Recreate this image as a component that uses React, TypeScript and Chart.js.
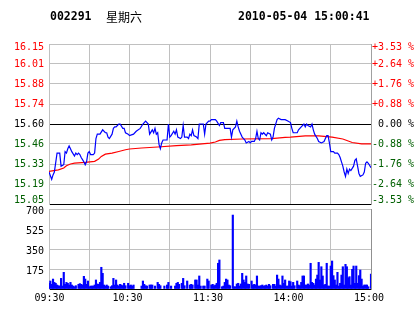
import React, { useEffect, useRef } from 'react';
import { Chart, registerables } from 'chart.js';

Chart.register(...registerables);

// ---- text ----
const stockCode = '002291';
const weekday = '星期六';
const timestamp = '2010-05-04 15:00:41';

// ---- axis / tick data ----
const priceMin = 15.05;
const priceMax = 16.15;
const priceLabels = ['16.15', '16.01', '15.88', '15.74', '15.60', '15.46', '15.33', '15.19', '15.05'];
const pctLabels = ['+3.53 %', '+2.64 %', '+1.76 %', '+0.88 %', ' 0.00 %', '-0.88 %', '-1.76 %', '-2.64 %', '-3.53 %'];
const timeTickMinutes = [0, 60, 120, 180, 240];
const timeLabels = ['09:30', '10:30', '11:30', '14:00', '15:00'];
const volMax = 700;
const volTickValues = [700, 525, 350, 175];

// ---- series: price (minute index from 09:30, trading minutes) ----
const priceMinutes = [
  0, 2, 3, 4, 6, 8, 9, 11, 12, 13, 14, 15, 16, 17, 19, 20, 21, 22, 23, 24,
  26, 27, 28, 29, 30, 31, 33, 34, 35, 36, 38, 40, 42, 43, 44, 45, 47, 48, 49, 50,
  52, 53, 55, 56, 57, 59, 60, 63, 65, 68, 70, 72, 74, 75, 77, 78, 79, 80, 81, 82,
  83, 84, 85, 88, 89, 90, 91, 93, 94, 95, 96, 98, 99, 100, 101, 103, 104, 105, 106, 107,
  108, 110, 111, 112, 114, 115, 116, 117, 119, 120, 121, 124, 125, 127, 128, 130, 131, 135, 136, 137,
  139, 140, 141, 142, 144, 145, 146, 147, 149, 150, 151, 153, 154, 155, 156, 157, 158, 159, 160, 162,
  163, 165, 166, 167, 168, 170, 171, 173, 176, 178, 180, 181, 182, 185, 186, 188, 190, 191, 192, 193,
  195, 196, 197, 198, 200, 201, 203, 205, 206, 207, 208, 209, 210, 212, 213, 215, 216, 217, 218, 219,
  220, 221, 222, 223, 224, 225, 227, 228, 229, 230, 231, 232, 234, 235, 236, 237, 238, 240,
];
const prices = [
  15.27, 15.22, 15.25, 15.27, 15.40, 15.40, 15.31, 15.32, 15.41, 15.40, 15.43, 15.45, 15.43, 15.41, 15.38, 15.40, 15.39, 15.40, 15.39, 15.37,
  15.34, 15.32, 15.34, 15.40, 15.41, 15.39, 15.39, 15.40, 15.50, 15.53, 15.53, 15.56, 15.54, 15.54, 15.51, 15.50, 15.53, 15.57, 15.58, 15.58,
  15.60, 15.60, 15.57, 15.57, 15.54, 15.53, 15.52, 15.53, 15.55, 15.57, 15.60, 15.62, 15.60, 15.53, 15.56, 15.54, 15.57, 15.53, 15.54, 15.46,
  15.43, 15.47, 15.49, 15.49, 15.60, 15.51, 15.52, 15.55, 15.53, 15.56, 15.51, 15.50, 15.51, 15.59, 15.51, 15.51, 15.50, 15.53, 15.52, 15.56,
  15.52, 15.51, 15.50, 15.60, 15.60, 15.60, 15.53, 15.60, 15.62, 15.62, 15.63, 15.63, 15.62, 15.59, 15.61, 15.61, 15.57, 15.57, 15.51, 15.56,
  15.58, 15.62, 15.58, 15.55, 15.51, 15.50, 15.49, 15.47, 15.48, 15.47, 15.48, 15.48, 15.50, 15.55, 15.50, 15.49, 15.54, 15.53, 15.54, 15.52,
  15.54, 15.53, 15.49, 15.51, 15.57, 15.63, 15.64, 15.63, 15.63, 15.62, 15.61, 15.57, 15.54, 15.54, 15.56, 15.58, 15.60, 15.58, 15.60, 15.59,
  15.58, 15.60, 15.56, 15.53, 15.50, 15.48, 15.47, 15.48, 15.50, 15.52, 15.52, 15.47, 15.41, 15.41, 15.40, 15.40, 15.39, 15.37, 15.34, 15.31,
  15.27, 15.24, 15.29, 15.26, 15.29, 15.28, 15.31, 15.35, 15.36, 15.31, 15.26, 15.24, 15.25, 15.27, 15.33, 15.34, 15.33, 15.30,
];

// ---- series: average price ----
const avgMinutes = [0, 7, 11, 13, 16, 19, 27, 34, 37, 39, 42, 47, 52, 57, 60, 69, 81, 95, 106, 120, 124, 127, 131, 144, 166, 176, 180, 191, 201, 211, 219, 226, 233, 240];
const avgPrices = [
  15.274, 15.285, 15.297, 15.313, 15.325, 15.331, 15.336, 15.343, 15.359, 15.377, 15.393, 15.400, 15.411, 15.423, 15.428, 15.435, 15.442,
  15.451, 15.457, 15.469, 15.476, 15.487, 15.492, 15.497, 15.499, 15.508, 15.510, 15.519, 15.519, 15.510, 15.497, 15.473, 15.464, 15.464,
];

// ---- series: volume ----
const volMinutes = [
  0, 1, 2, 3, 4, 5, 6, 7, 8, 9, 10, 11, 12, 13, 14, 15, 16, 17, 18, 19,
  20, 22, 23, 24, 25, 26, 27, 28, 29, 30, 31, 32, 33, 34, 35, 36, 37, 38, 39, 40,
  41, 42, 43, 44, 46, 47, 48, 49, 50, 51, 52, 53, 54, 55, 56, 57, 59, 60, 61, 62,
  63, 69, 70, 71, 72, 73, 75, 76, 77, 79, 81, 82, 83, 86, 88, 89, 91, 94, 95, 96,
  97, 99, 100, 101, 103, 105, 106, 107, 109, 110, 111, 112, 113, 115, 116, 118, 119, 121, 122, 123,
  124, 125, 126, 127, 129, 130, 131, 132, 133, 134, 135, 137, 138, 139, 140, 141, 142, 143, 144, 145,
  146, 147, 148, 149, 151, 152, 153, 154, 155, 156, 157, 158, 159, 160, 161, 162, 163, 164, 165, 167,
  168, 169, 170, 171, 172, 173, 174, 175, 176, 177, 178, 179, 180, 181, 182, 183, 185, 186, 187, 188,
  189, 190, 191, 192, 193, 194, 195, 196, 197, 198, 199, 200, 201, 202, 203, 204, 205, 206, 207, 208,
  209, 210, 211, 212, 213, 214, 215, 216, 217, 218, 219, 220, 221, 222, 223, 224, 225, 226, 227, 228,
  229, 230, 231, 232, 233, 234, 235, 236, 237, 238, 240,
];
const volumes = [
  50, 70, 41, 87, 58, 50, 35, 29, 26, 93, 26, 146, 41, 58, 50, 35, 58, 35, 26, 20,
  29, 41, 47, 41, 35, 111, 87, 41, 70, 20, 26, 26, 26, 35, 79, 44, 41, 58, 190, 137,
  35, 26, 35, 26, 20, 29, 93, 35, 79, 35, 26, 41, 35, 29, 50, 29, 50, 29, 35, 26,
  35, 26, 70, 41, 29, 26, 35, 35, 35, 26, 58, 41, 29, 26, 35, 58, 26, 26, 50, 58,
  41, 50, 93, 29, 70, 35, 41, 35, 79, 79, 35, 114, 26, 26, 26, 87, 70, 35, 41, 29,
  35, 50, 225, 254, 20, 26, 58, 87, 79, 35, 29, 647, 20, 20, 44, 50, 26, 44, 137, 79,
  58, 114, 44, 41, 70, 35, 41, 35, 114, 26, 26, 29, 35, 26, 29, 35, 26, 41, 29, 41,
  41, 26, 122, 87, 35, 29, 114, 50, 79, 26, 26, 70, 64, 26, 58, 29, 70, 35, 29, 58,
  114, 114, 35, 35, 44, 35, 225, 58, 50, 35, 87, 122, 233, 79, 195, 114, 35, 41, 225, 26,
  26, 201, 245, 117, 79, 35, 146, 26, 50, 122, 195, 35, 216, 195, 99, 108, 35, 172, 201, 50,
  201, 50, 117, 166, 87, 26, 35, 35, 35, 20, 131,
];

// ---- styles ----
const FONT = '10px "DejaVu Sans Mono", "Liberation Mono", monospace';
const GRID = '#c0c0c0';
const RED = '#ff0000';
const GREEN = '#006000';
const BLUE = '#0000ff';
const W = 414;
const H = 314;

const mainLabelPlugin = {
  id: 'mainLabels',
  afterDraw(chart: any) {
    const { ctx, chartArea } = chart;
    const ys = chart.scales.y;
    ctx.save();
    // title
    ctx.textBaseline = 'middle';
    ctx.textAlign = 'left';
    ctx.fillStyle = '#000';
    ctx.font = 'bold 11.5px "DejaVu Sans Mono", monospace';
    ctx.fillText(stockCode, 50, 17);
    ctx.fillText(timestamp, 238, 17);
    ctx.font = '12px "Noto Sans CJK SC", sans-serif';
    ctx.fillText(weekday, 106, 17);

    ctx.font = FONT;
    const n = priceLabels.length - 1;
    for (let k = 0; k <= n; k++) {
      const value = priceMax - (k * (priceMax - priceMin)) / n;
      let py = ys.getPixelForValue(value) + 0.7;
      py = Math.min(Math.max(py, chartArea.top + 3.5), chartArea.bottom - 3.5);
      const color = k < 4 ? RED : k === 4 ? '#000' : GREEN;
      ctx.fillStyle = color;
      ctx.textAlign = 'right';
      ctx.fillText(priceLabels[k], chartArea.left - 5, py);
      ctx.textAlign = 'left';
      ctx.fillText(pctLabels[k], chartArea.right + 1, py);
    }
    ctx.restore();
  },
};

const volLabelPlugin = {
  id: 'volLabels',
  afterDraw(chart: any) {
    const { ctx, chartArea } = chart;
    const ys = chart.scales.y;
    const xs = chart.scales.x;
    ctx.save();
    ctx.font = FONT;
    ctx.fillStyle = '#000';
    ctx.textBaseline = 'middle';
    ctx.textAlign = 'right';
    volTickValues.forEach((v) => {
      ctx.fillText(String(v), chartArea.left - 5, ys.getPixelForValue(v) + 2.5);
    });
    ctx.textAlign = 'center';
    timeTickMinutes.forEach((m, i) => {
      const px = xs.getPixelForValue(m) + (i === 0 ? 0.5 : -2);
      ctx.fillText(timeLabels[i], px, chartArea.bottom + 9);
    });
    ctx.restore();
  },
};

export default function App() {
  const mainRef = useRef<HTMLCanvasElement>(null);
  const volRef = useRef<HTMLCanvasElement>(null);

  useEffect(() => {
    const priceSteps = priceLabels.length - 1;
    const priceTicks = Array.from({ length: priceSteps + 1 }, (_, i) => priceMin + (i * (priceMax - priceMin)) / priceSteps);

    const main = new Chart(mainRef.current as HTMLCanvasElement, {
      type: 'line',
      data: {
        datasets: [
          {
            data: priceMinutes.map((m, i) => ({ x: m, y: prices[i] })),
            borderColor: BLUE,
            borderWidth: 1.2,
            pointRadius: 0,
            tension: 0,
            fill: false,
          },
          {
            data: avgMinutes.map((m, i) => ({ x: m, y: avgPrices[i] })),
            borderColor: RED,
            borderWidth: 1.2,
            pointRadius: 0,
            tension: 0,
            fill: false,
          },
        ],
      },
      options: {
        responsive: false,
        animation: false,
        devicePixelRatio: 1,
        events: [],
        layout: { padding: { top: 44, bottom: 110, left: 0, right: 0 } },
        plugins: { legend: { display: false }, tooltip: { enabled: false }, title: { display: false } },
        scales: {
          x: {
            type: 'linear',
            min: 0,
            max: 240,
            ticks: { display: false, stepSize: 30 },
            grid: { color: GRID, drawTicks: false, lineWidth: 1 },
            border: { display: false },
            afterFit: (s: any) => {
              s.height = 0;
            },
          },
          y: {
            type: 'linear',
            position: 'left',
            min: priceMin,
            max: priceMax,
            afterBuildTicks: (s: any) => {
              s.ticks = priceTicks.map((v) => ({ value: v }));
            },
            ticks: { display: false },
            grid: {
              drawTicks: false,
              lineWidth: 1,
              color: (c: any) => (c.index === 0 || c.index === 4 ? '#000000' : GRID),
            },
            border: { color: GRID },
            afterFit: (s: any) => {
              s.width = 49;
            },
          },
          y1: {
            type: 'linear',
            position: 'right',
            min: priceMin,
            max: priceMax,
            ticks: { display: false },
            grid: { display: false },
            border: { color: '#a0a0a0' },
            afterFit: (s: any) => {
              s.width = 43;
            },
          },
        },
      } as any,
      plugins: [mainLabelPlugin],
    });

    const vol = new Chart(volRef.current as HTMLCanvasElement, {
      type: 'bar',
      data: {
        datasets: [
          {
            data: volMinutes.map((m, i) => ({ x: m, y: volumes[i] })),
            backgroundColor: BLUE,
            borderWidth: 0,
            barThickness: 1.5,
          },
        ],
      },
      options: {
        responsive: false,
        animation: false,
        devicePixelRatio: 1,
        events: [],
        layout: { padding: { top: 209, bottom: 25, left: 0, right: 0 } },
        plugins: { legend: { display: false }, tooltip: { enabled: false } },
        scales: {
          x: {
            type: 'linear',
            min: 0,
            max: 240,
            offset: false,
            ticks: { display: false, stepSize: 30 },
            grid: { color: GRID, drawTicks: false, offset: false },
            border: { display: false },
            afterFit: (s: any) => {
              s.height = 0;
            },
          },
          y: {
            type: 'linear',
            position: 'left',
            min: 0,
            max: volMax,
            afterBuildTicks: (s: any) => {
              s.ticks = [0, ...volTickValues.slice().reverse()].map((v) => ({ value: v }));
            },
            ticks: { display: false },
            grid: {
              drawTicks: false,
              color: (c: any) => (c.index === 0 ? '#000000' : GRID),
            },
            border: { color: GRID },
            afterFit: (s: any) => {
              s.width = 49;
            },
          },
          y1: {
            type: 'linear',
            position: 'right',
            min: 0,
            max: volMax,
            ticks: { display: false },
            grid: { display: false },
            border: { color: '#909090' },
            afterFit: (s: any) => {
              s.width = 43;
            },
          },
        },
      } as any,
      plugins: [volLabelPlugin],
    });

    return () => {
      main.destroy();
      vol.destroy();
    };
  }, []);

  return (
    <div style={{ position: 'absolute', left: 0, top: 0, width: W, height: H, background: '#fff' }}>
      <canvas ref={mainRef} width={W} height={H} style={{ position: 'absolute', left: 0, top: 0, width: W, height: H }} />
      <canvas ref={volRef} width={W} height={H} style={{ position: 'absolute', left: 0, top: 0, width: W, height: H }} />
    </div>
  );
}
